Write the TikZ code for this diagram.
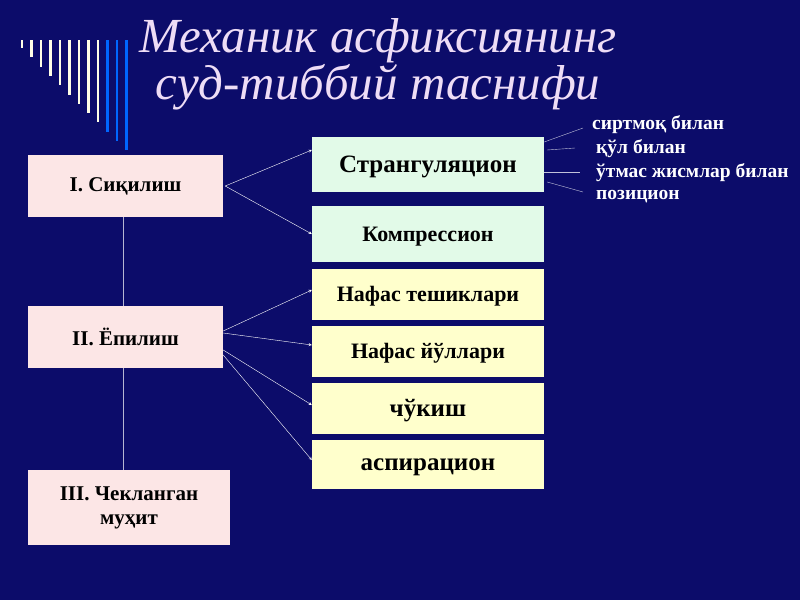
\documentclass[tikz,border=0pt]{standalone}
\usepackage{fontspec}
\setmainfont{Liberation Serif}
\usetikzlibrary{positioning}
\definecolor{navy}{HTML}{0C0C6A}
\definecolor{boxpink}{HTML}{FCE6E6}
\definecolor{boxgreen}{HTML}{E2FAE8}
\definecolor{boxyellow}{HTML}{FFFFCC}
\definecolor{titlecol}{HTML}{EEDDF6}
\tikzset{
  kind/.style={draw=none,fill=boxpink,minimum width=195pt,minimum height=62pt,font=\bfseries\fontsize{21}{24}\selectfont,align=center,inner sep=0pt},
  sort/.style={draw=none,minimum width=232pt,minimum height=51pt,font=\bfseries\fontsize{22}{24}\selectfont,inner sep=0pt,text depth=0pt},
  link/.style={->,white,thin,>=stealth},
  sub/.style={white,font=\bfseries\fontsize{19.5}{22}\selectfont,anchor=west,inner sep=0pt}
}
\begin{document}
\begin{tikzpicture}[x=1pt,y=-1pt]
\fill[navy] (0,0) rectangle (800,600);
\useasboundingbox (0,0) rectangle (800,600);
% stripes
\foreach \i in {0,...,11}{
  \pgfmathsetmacro{\xx}{22+9.5*\i}
  \pgfmathsetmacro{\yy}{48+9.3*\i}
  \ifnum\i>8
    \draw[line width=2.5pt,blue!60!cyan] (\xx,40) -- (\xx,\yy);
  \else
    \draw[line width=2.5pt,white!90!yellow] (\xx,40) -- (\xx,\yy);
  \fi
}
% title
\node[text=titlecol,font=\itshape\fontsize{49}{47}\selectfont,align=center] (title) at (378,64) {Механик асфиксиянинг\\суд-тиббий таснифи};
% left column
\node[kind] (k1) at (125.5,186) {I. Сиқилиш};
\node[kind] (k2) at (125.5,337) {II. Ёпилиш};
\node[kind,minimum width=202pt,minimum height=75pt] (k3) at (129,507.5) {III. Чекланган\\муҳит};
\draw[white!70!navy] (k1.south -| 123,0) -- (k2.north -| 123,0);
\draw[white!70!navy] (k2.south -| 123,0) -- (k3.north -| 123,0);
% right column
\node[sort,fill=boxgreen,minimum height=55pt,font=\bfseries\fontsize{25}{28}\selectfont] (s1) at (428,164.5) {Странгуляцион};
\node[sort,fill=boxgreen,minimum height=56pt] (s2) at (428,234) {Компрессион};
\node[sort,fill=boxyellow] (s3) at (428,294) {Нафас тешиклари};
\node[sort,fill=boxyellow] (s4) at (428,351) {Нафас йўллари};
\node[sort,fill=boxyellow,font=\bfseries\fontsize{25}{28}\selectfont] (s5) at (428,408) {чўкиш};
\node[sort,fill=boxyellow,minimum height=49pt,font=\bfseries\fontsize{25}{28}\selectfont] (s6) at (428,464.5) {аспирацион};
% arrows
\draw[link] (k1.east) ++(2,0) -- ([yshift=14.5pt]s1.west);
\draw[link] (k1.east) ++(2,0) -- (s2.west);
\draw[link] ([yshift=6pt]k2.east) -- ([yshift=4pt]s3.west);
\draw[link] ([yshift=4pt]k2.east) -- ([yshift=6pt]s4.west);
\draw[link] ([yshift=-13pt]k2.east) -- ([yshift=3pt]s5.west);
\draw[link] ([yshift=-18pt]k2.east) -- ([yshift=4.5pt]s6.west);
% strangulation kinds
\node[sub] (n1) at (592,125) {сиртмоқ билан};
\node[sub] (n2) at (596,149) {қўл билан};
\node[sub] (n3) at (596,173) {ўтмас жисмлар билан};
\node[sub] (n4) at (596,197) {позицион};
\draw[white!75!navy] ([yshift=22.5pt]s1.east) -- ([xshift=-9pt,yshift=-3pt]n1.west);
\draw[white!75!navy] ([xshift=3pt,yshift=14.5pt]s1.east) -- ([xshift=-21pt,yshift=1pt]n2.west);
\draw[white!75!navy] ([yshift=-7.5pt]s1.east) -- ([xshift=-16pt,yshift=1pt]n3.west);
\draw[white!75!navy] ([xshift=3pt,yshift=-17.5pt]s1.east) -- ([xshift=-13pt,yshift=5pt]n4.west);
\end{tikzpicture}
\end{document}
